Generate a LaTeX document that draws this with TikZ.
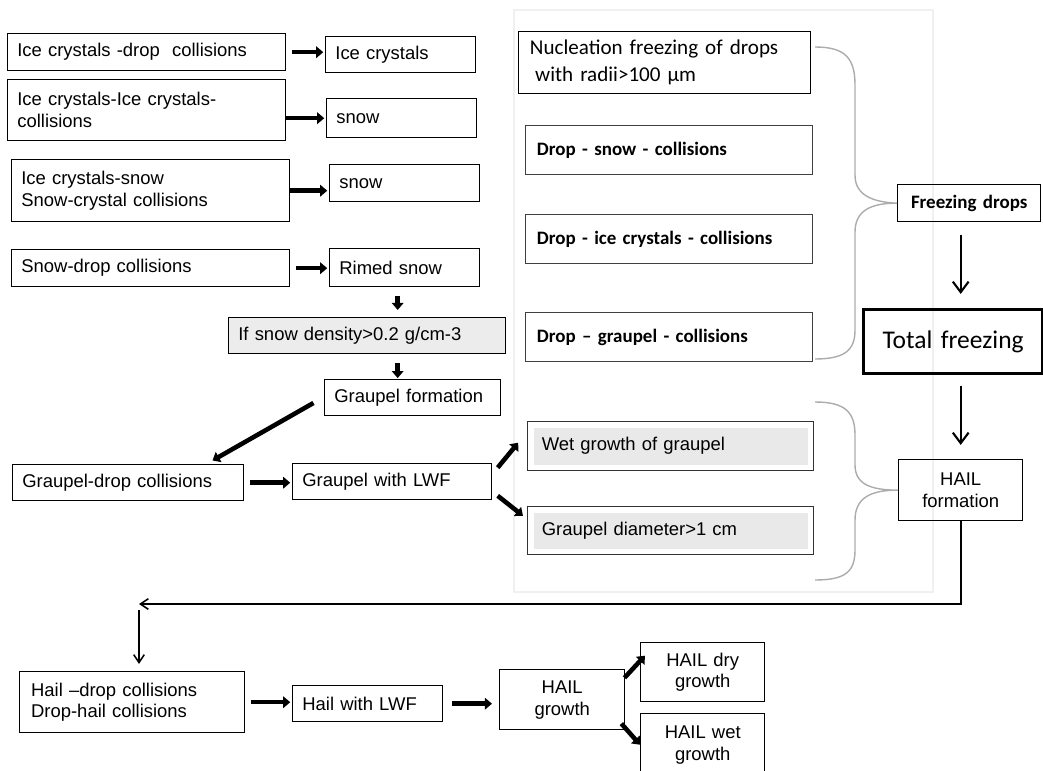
\documentclass[tikz,border=0pt]{standalone}
\usepackage{fontspec}
\setmainfont{Liberation Sans}
\newfontfamily\calibri{Carlito}
\usepackage{tikz}
\usetikzlibrary{arrows.meta, calc}

\newcommand{\arialtxt}{\fontsize{10.5}{12.5}\selectfont}
\newcommand{\calbold}{\calibri\bfseries\fontsize{10.8}{13}\selectfont}

\begin{document}
\begin{tikzpicture}[x=0.02cm, y=-0.02cm,
  box/.style 2 args={draw, line width=0.8pt, anchor=north west, inner xsep=5.5pt, inner ysep=0pt, text width=#1*0.02cm-11pt, minimum height=#2*0.02cm, align=left, font=\arialtxt},
  cbox/.style 2 args={box={#1}{#2}, align=center},
  calbox/.style 2 args={box={#1}{#2}, draw=black!75, line width=0.6pt, inner xsep=6.5pt, text width=#1*0.02cm-13pt, font=\calbold},
  greybox/.style 2 args={box={#1}{#2}, draw=black!80, inner xsep=8pt, text width=#1*0.02cm-16pt, path picture={\fill[gray!17] ([shift={(3.5pt,3.5pt)}]path picture bounding box.south west) rectangle ([shift={(-3.5pt,-3.5pt)}]path picture bounding box.north east);}},
  fat/.style={line width=2.6pt, -{Triangle[length=4pt, width=6.5pt]}},
  downarrow/.style={line width=1.2pt, -{Straight Barb[length=6pt, width=9pt]}},
  backarrow/.style={line width=0.9pt, -{Straight Barb[length=4.5pt, width=6pt]}},
  brace/.style={draw=gray!65, line width=0.8pt}
]
\useasboundingbox (0,0) rectangle (1043,770);
\draw[gray!12, line width=1.2pt] (514,10) rectangle (933,592);
\node[box={278}{37}] (icdrop) at (7,33) {Ice crystals -drop~ collisions};
\node[box={150}{36}] (icecr) at (325,36) {Ice crystals};
\node[box={278}{61}] (icic) at (7,79) {Ice crystals-Ice crystals-\\collisions};
\node[box={150}{39}] (snowa) at (326,98) {snow};
\node[box={278}{62}] (icsnow) at (11,159) {Ice crystals-snow\\Snow-crystal collisions};
\node[box={150}{37}] (snowb) at (329,164) {snow};
\node[box={278}{37}] (snowdrop) at (11,249) {Snow-drop collisions};
\node[box={150}{38}] (rimed) at (329,248) {Rimed snow};
\node[box={277}{36}, fill=gray!15] (density) at (228,317) {If snow density>0.2 g/cm-3};
\node[box={176}{36}] (gform) at (324,379) {Graupel formation};
\node[box={231}{36}] (gdrop) at (12,464) {Graupel-drop collisions};
\node[box={199}{36}] (glwf) at (292,463) {Graupel with LWF};
\node[calbox={292}{62}, draw=black, font=\calibri\fontsize{12}{15}\selectfont] (nucl) at (518,31) {Nucleation freezing of drops\\\hspace*{3pt}with radii>100 µm};
\node[calbox={287}{49}] (dsnow) at (525,125) {Drop - snow - collisions};
\node[calbox={287}{49}] (dice) at (525,214) {Drop - ice crystals - collisions};
\node[calbox={287}{49}] (dgraup) at (525,312) {Drop – graupel - collisions};
\node[greybox={286}{49}] (wetg) at (527,421) {Wet growth of graupel};
\node[greybox={286}{48}] (gdiam) at (527,506) {Graupel diameter>1 cm};
\node[calbox={143}{37}, draw=black, line width=0.8pt, align=center] (freeze) at (897,184) {Freezing drops};
\node[cbox={179}{64}, line width=1.8pt, font=\calibri\fontsize{14.5}{17}\selectfont] (total) at (862,308) {Total freezing};
\node[cbox={124}{61}] (hailf) at (898,459) {HAIL\\formation};
\node[box={225}{61}, inner xsep=6.5pt, text width=225*0.02cm-13pt] (hdrop) at (19,671) {Hail –drop collisions\\Drop-hail collisions};
\node[box={150}{36}] (hlwf) at (292,685) {Hail with LWF};
\node[cbox={125}{60}] (hgrow) at (499,669) {HAIL\\growth};
\node[cbox={124}{59}] (hdry) at (640,642) {HAIL dry\\growth};
\node[cbox={124}{62}] (hwet) at (640,713) {HAIL wet\\growth};
\foreach \a/\b in {icdrop/icecr, snowdrop/rimed, gdrop/glwf, hdrop/hlwf}
  \draw[fat, shorten <=3pt, shorten >=1pt] (\a.east) -- (\a.east -| \b.west);
\draw[fat, shorten >=1pt] (icic.east |- snowa.west) -- (snowa.west);
\draw[fat, shorten >=1pt] (icsnow.east) -- (icsnow.east -| snowb.west);
\draw[fat, shorten <=5pt, shorten >=4pt] ([xshift=-4pt]rimed.south) -- ([xshift=-4pt]rimed.south |- density.north);
\draw[fat, shorten <=5pt, shorten >=0.5pt] ([xshift=-4pt]rimed.south |- density.south) -- ([xshift=-4pt]rimed.south |- gform.north);
\draw[fat] ([shift={(-6pt,-3pt)}]gform.west) -- ([shift={(48pt,2pt)}]gdrop.north);
\draw[fat] ([shift={(3pt,8pt)}]glwf.east) -- ([shift={(-5pt,2pt)}]wetg.west);
\draw[fat] ([shift={(3pt,-8pt)}]glwf.east) -- ([shift={(-2.3pt,8.5pt)}]gdiam.west);
\draw[fat, shorten <=5pt, shorten >=4pt] (hlwf.east) -- (hlwf.east -| hgrow.west);
\draw[fat] ([shift={(-0.5pt,12.5pt)}]hgrow.east) -- ([shift={(2.8pt,9.4pt)}]hdry.west);
\draw[fat] ([shift={(-2.3pt,-13.6pt)}]hgrow.east) -- (hwet.west);
\draw[downarrow, shorten <=7pt, shorten >=8pt] (freeze.south -| hailf.north) -- (total.north -| hailf.north);
\draw[downarrow, shorten <=6pt, shorten >=8pt] (total.south -| hailf.north) -- (hailf.north);
\coordinate (turn) at (139,604);
\draw[backarrow] (hailf.south) |- (turn);
\draw[backarrow, shorten <=3.5pt, shorten >=4pt] (turn) -- (turn |- hdrop.north);
\draw[brace] (815,47) .. controls (845,47) and (855,58) .. (855,85) -- (855,175) .. controls (855,195) and (872,202) .. (freeze.west) .. controls (872,203) and (855,210) .. (855,232) -- (855,330) .. controls (855,350) and (845,359) .. (815,359);
\draw[brace] (815,402) .. controls (845,402) and (855,412) .. (855,435) -- (855,465) .. controls (855,485) and (872,490) .. (hailf.west) .. controls (872,490) and (855,497) .. (855,520) -- (855,550) .. controls (855,572) and (845,580) .. (815,580);
\end{tikzpicture}
\end{document}
